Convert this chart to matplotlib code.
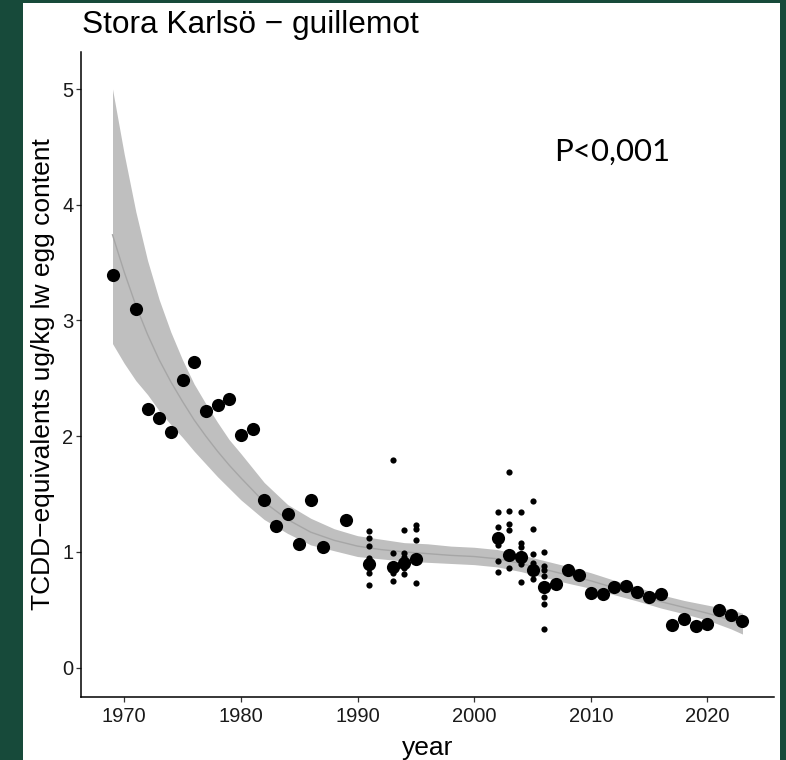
import numpy as np
import matplotlib
matplotlib.use("Agg")
import matplotlib.pyplot as plt
from matplotlib.patches import Rectangle

# annual means (large dots)
mean_years = [1969, 1971, 1972, 1973, 1974, 1975, 1976, 1977, 1978, 1979, 1980, 1981,
              1982, 1983, 1984, 1985, 1986, 1987, 1989, 1991, 1993, 1994, 1995,
              2002, 2003, 2004, 2005, 2006, 2007, 2008, 2009, 2010, 2011, 2012,
              2013, 2014, 2015, 2016, 2017, 2018, 2019, 2020, 2021, 2022, 2023]
mean_vals = [3.39, 3.10, 2.235, 2.155, 2.04, 2.486, 2.64, 2.215, 2.267, 2.32, 2.01, 2.062,
             1.449, 1.224, 1.327, 1.068, 1.449, 1.04, 1.276, 0.895, 0.87, 0.90, 0.941,
             1.116, 0.972, 0.953, 0.847, 0.70, 0.72, 0.844, 0.80, 0.645, 0.64, 0.694,
             0.708, 0.656, 0.613, 0.636, 0.371, 0.417, 0.362, 0.377, 0.498, 0.455, 0.403]

# individual eggs (small dots)
egg_years = ([1991] * 7 + [1993] * 4 + [1994] * 5 + [1995] * 4 +
             [2002] * 5 + [2003] * 5 + [2004] * 5 + [2005] * 6 + [2006] * 7)
egg_vals = [1.183, 1.123, 1.051, 0.945, 0.858, 0.82, 0.714,
            1.794, 0.993, 0.815, 0.751,
            1.19, 0.988, 0.953, 0.86, 0.806,
            1.233, 1.195, 1.103, 0.729,
            1.347, 1.218, 1.06, 0.924, 0.829,
            1.693, 1.356, 1.241, 1.19, 0.858,
            1.347, 1.074, 1.045, 0.895, 0.742,
            1.443, 1.195, 0.982, 0.90, 0.815, 0.77,
            0.997, 0.878, 0.844, 0.792, 0.607, 0.55, 0.334]

# smoother and its confidence band
fit_years = [1969, 1970, 1971, 1972, 1973, 1974, 1975, 1976, 1977, 1978, 1979, 1980,
             1982, 1984, 1986, 1988, 1990, 1992, 1994, 1996, 1998, 2000, 2002, 2004,
             2006, 2008, 2010, 2012, 2014, 2016, 2018, 2020, 2022, 2023]
fit_mid = [3.74, 3.42, 3.13, 2.88, 2.66, 2.47, 2.30, 2.14, 2.00, 1.87, 1.75, 1.64,
           1.43, 1.28, 1.17, 1.10, 1.05, 1.02, 1.00, 0.985, 0.97, 0.96, 0.94, 0.90,
           0.85, 0.80, 0.75, 0.69, 0.63, 0.57, 0.52, 0.47, 0.41, 0.37]
fit_hi = [5.00, 4.44, 3.94, 3.52, 3.18, 2.90, 2.66, 2.45, 2.28, 2.12, 1.97, 1.85,
          1.60, 1.41, 1.29, 1.20, 1.14, 1.11, 1.08, 1.07, 1.05, 1.04, 1.02, 0.975,
          0.925, 0.875, 0.82, 0.755, 0.695, 0.63, 0.58, 0.54, 0.50, 0.47]
fit_lo = [2.80, 2.63, 2.48, 2.36, 2.22, 2.10, 1.99, 1.87, 1.76, 1.65, 1.55, 1.45,
          1.28, 1.16, 1.06, 1.01, 0.96, 0.94, 0.92, 0.91, 0.90, 0.89, 0.87, 0.83,
          0.78, 0.73, 0.685, 0.63, 0.575, 0.515, 0.465, 0.41, 0.335, 0.29]

x_ticks = [1970, 1980, 1990, 2000, 2010, 2020]
y_ticks = [0, 1, 2, 3, 4, 5]

plt.rcParams['font.family'] = ['Liberation Sans', 'DejaVu Sans']

fig = plt.figure(figsize=(7.86, 7.60), dpi=100)
fig.patch.set_facecolor('#174a3a')
# white slide panel behind the plot
fig.patches.append(Rectangle((23 / 786, 0), (780 - 23) / 786, 1 - 3 / 760,
                             transform=fig.transFigure, facecolor='white',
                             edgecolor='none', zorder=-5))

ax = fig.add_axes([81 / 786, 1 - 697 / 760, (774 - 81) / 786, (697 - 52) / 760])
ax.set_facecolor('none')

ax.fill_between(fit_years, fit_lo, fit_hi, color='#bfbfbf', linewidth=0, zorder=1)
ax.plot(fit_years, fit_mid, color='#a6a6a6', linewidth=1.0, zorder=2)
ax.scatter(egg_years, egg_vals, s=20, color='black', linewidths=0, zorder=3)
ax.scatter(mean_years, mean_vals, s=90, color='black', linewidths=0, zorder=4)

ax.set_xlim(1966.3, 2025.7)
ax.set_ylim(-0.254, 5.32)
ax.set_xticks(x_ticks)
ax.set_yticks(y_ticks)

for side in ['top', 'right']:
    ax.spines[side].set_visible(False)
for side in ['left', 'bottom']:
    ax.spines[side].set_linewidth(1.1)
    ax.spines[side].set_color('black')
ax.tick_params(length=3.5, width=0.9, color='#333333', labelsize=14.5,
               labelcolor='#1a1a1a', pad=2)
ax.tick_params(axis='x', pad=4)

ax.set_xlabel('year', fontsize=19, labelpad=7)
ax.set_ylabel('TCDD\u2212equivalents ug/kg lw egg content', fontsize=19, labelpad=5)

fig.text(81.5 / 786, 1 - 33 / 760, 'Stora Karlsö \u2212 guillemot', fontsize=22.8,
         ha='left', va='baseline', color='black')
fig.text(554 / 786, 1 - 161 / 760, 'P<0,001', fontsize=22.5, family=['Lato', 'DejaVu Sans'],
         ha='left', va='baseline', color='black')

fig.savefig('out.png', dpi=100, facecolor=fig.get_facecolor())
